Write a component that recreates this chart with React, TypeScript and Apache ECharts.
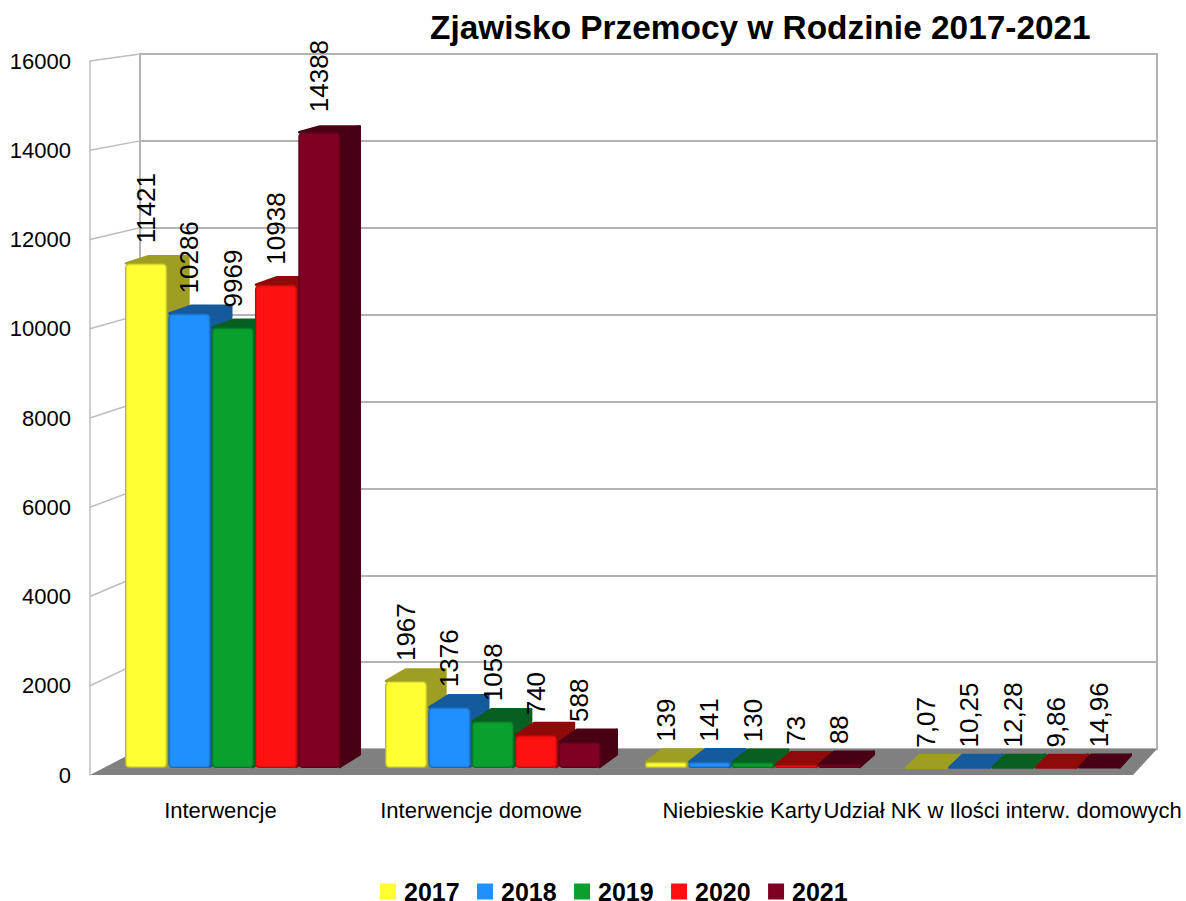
import React, { useEffect, useRef } from "react";
import * as echarts from "echarts";

const categories = ["Interwencje", "Interwencje domowe", "Niebieskie Karty", "Udział NK w Ilości interw. domowych"];
const years = ["2017", "2018", "2019", "2020", "2021"];
const v2017 = [11421, 1967, 139, 7.07];
const v2018 = [10286, 1376, 141, 10.25];
const v2019 = [9969, 1058, 130, 12.28];
const v2020 = [10938, 740, 73, 9.86];
const v2021 = [14388, 588, 88, 14.96];
const seriesValues = [v2017, v2018, v2019, v2020, v2021];
const ticks = [0, 2000, 4000, 6000, 8000, 10000, 12000, 14000, 16000];

const frontColors = ["#ffff33", "#2190ff", "#09a02f", "#ff1111", "#800024"];
const edgeOuter = ["#b8b82a", "#1a68b4", "#077524", "#b80c0c", "#5c001a"];
const edgeInner = ["#e2e230", "#1e80e2", "#088e2a", "#e20f0f", "#700020"];
const darkColors = ["#9e9e22", "#155a9c", "#075f20", "#900a0a", "#4a0014"];

const FONT = '"Liberation Sans", Arial, sans-serif';
// layout of the box
const FRONT = { left: 90, top: 61, width: 1043, height: 714 };
const BACK = { left: 140, top: 54, width: 1017, height: 695 };
const BARS = { left: 103.3, top: 61, width: 1040, height: 707 };
const MAXV = 16000;

const depthDx = (x: number) => 50 - (26 * (x - FRONT.left)) / FRONT.width;
const depthDy = (y: number) => 7 + (19 * (y - FRONT.top)) / FRONT.height;
const barDx = (x: number) => 0.46 * depthDx(x);
const barDy = (y: number) => 0.4 * depthDy(y) + 3.2;

function renderBar(params: any, api: any) {
  const cat = api.value(0);
  const val = api.value(1);
  const idx = params.seriesIndex - 1;
  const base = api.coord([cat, 0]);
  const top = api.coord([cat, val]);
  const band = api.size([1, 0])[0];
  const step = band / 6;
  const w = step - 1;
  const x0 = base[0] - 2.5 * step + idx * step;
  const x1 = x0 + w;
  const y0 = base[1];
  const y1 = top[1];
  const h = y0 - y1;
  const dTop = barDy(y1);
  const dBot = barDy(y0);
  const dark = darkColors[idx];
  const face = (pts: number[][]) => ({
    type: "polygon",
    shape: { points: pts },
    style: { fill: dark, stroke: dark, lineWidth: 2.5, lineJoin: "round" },
    z2: idx * 10 + 1,
  });
  const children: any[] = [
    face([[x1 - 1, y1], [x1 + barDx(x1) - 1, y1 - dTop + 1], [x1 + barDx(x1) - 1, y0 - dBot], [x1 - 1, y0 - 1]]),
    face([[x0 + 1, y1], [x0 + barDx(x0) + 1, y1 - dTop + 1], [x1 + barDx(x1) - 1, y1 - dTop + 1], [x1 - 1, y1]]),
  ];
  const layers: [number, string][] = [[0, edgeOuter[idx]], [1, edgeInner[idx]], [2, frontColors[idx]]];
  layers.forEach(([inset, color], i) => {
    if (h > 1 && h > inset * 2) {
      children.push({
        type: "rect",
        shape: { x: x0 + inset, y: y1 + inset, width: w - 2 * inset, height: h - 2 * inset, r: Math.min(4.5 - inset, h / 2) },
        style: { fill: color },
        z2: idx * 10 + 2 + i,
      });
    }
  });
  children.push({
    type: "text",
    x: (x0 + x1) / 2,
    y: y1 - 20,
    rotation: Math.PI / 2,
    style: {
      text: String(val).replace(".", ","),
      font: `26px ${FONT}`,
      fill: "#000",
      textAlign: "left",
      textVerticalAlign: "middle",
    },
    z2: 500,
  });
  return { type: "group", children };
}

function renderBox(params: any, api: any) {
  const children: any[] = [];
  const yBack = (v: number) => BACK.top + BACK.height * (1 - v / MAXV);
  ticks.forEach((v) => {
    const p = api.coord([0, v]);
    if (v > 0) {
      children.push({
        type: "line",
        shape: { x1: FRONT.left, y1: p[1], x2: BACK.left, y2: yBack(v) },
        style: { stroke: "#bdbdbd", lineWidth: 1.5 },
      });
    }
  });
  const floorY = FRONT.top + FRONT.height;
  children.push({
    type: "polygon",
    shape: {
      points: [
        [FRONT.left, floorY],
        [BACK.left, yBack(0)],
        [BACK.left + BACK.width, yBack(0)],
        [FRONT.left + FRONT.width, floorY],
      ],
    },
    style: { fill: "#808080" },
  });
  return { type: "group", children };
}

export default function App() {
  const ref = useRef<HTMLDivElement>(null);
  useEffect(() => {
    const chart = echarts.init(ref.current!, null, { renderer: "svg" });
    const hiddenAxis = { show: false };
    chart.setOption({
      animation: false,
      backgroundColor: "#fff",
      title: {
        text: "Zjawisko Przemocy w Rodzinie 2017-2021",
        left: 430,
        top: 11,
        padding: 0,
        textStyle: { fontFamily: FONT, fontWeight: "bold", fontSize: 33.4, color: "#000" },
      },
      legend: {
        data: years,
        left: 380,
        top: 879,
        padding: 0,
        itemWidth: 16,
        itemHeight: 16,
        itemGap: 17.4,
        icon: "rect",
        selectedMode: false,
        textStyle: { fontFamily: FONT, fontWeight: "bold", fontSize: 25, lineHeight: 18, color: "#000", padding: [0, 0, 0, 3] },
      },
      grid: [
        { ...BACK, show: true, borderColor: "#b3b3b3", borderWidth: 2, backgroundColor: "transparent" },
        { ...FRONT },
        { ...BARS },
      ],
      xAxis: [
        { gridIndex: 0, type: "category", data: categories, ...hiddenAxis },
        {
          gridIndex: 1,
          type: "category",
          data: categories,
          axisLine: { show: false },
          axisTick: { show: false },
          axisLabel: { interval: 0, hideOverlap: false, fontFamily: FONT, fontSize: 22, color: "#000", margin: 24 },
        },
        { gridIndex: 2, type: "category", data: categories, ...hiddenAxis },
      ],
      yAxis: [
        {
          gridIndex: 0, type: "value", min: 0, max: MAXV, interval: 2000,
          axisLine: { show: false }, axisTick: { show: false }, axisLabel: { show: false },
          splitLine: { show: true, lineStyle: { color: "#b3b3b3", width: 2 } },
        },
        {
          gridIndex: 1, type: "value", min: 0, max: MAXV, interval: 2000,
          axisLine: { show: true, lineStyle: { color: "#bdbdbd", width: 1.5 } },
          axisTick: { show: false },
          splitLine: { show: false },
          axisLabel: { fontFamily: FONT, fontSize: 22, color: "#000", margin: 19, padding: [2, 0, 0, 0], formatter: (v: number) => String(v) },
        },
        { gridIndex: 2, type: "value", min: 0, max: MAXV, interval: 2000, ...hiddenAxis, splitLine: { show: false } },
      ],
      series: [
        {
          type: "custom",
          name: "box",
          xAxisIndex: 1,
          yAxisIndex: 1,
          coordinateSystem: "cartesian2d",
          data: [[0, 0]],
          renderItem: renderBox,
          silent: true,
          z: 1,
          clip: false,
        },
        ...years.map((name, i) => ({
          type: "custom",
          name,
          xAxisIndex: 2,
          yAxisIndex: 2,
          coordinateSystem: "cartesian2d",
          itemStyle: { color: frontColors[i] },
          data: seriesValues[i].map((v, c) => [c, v]),
          encode: { x: 0, y: 1 },
          renderItem: renderBar,
          clip: false,
          z: 3,
        })),
      ],
    });
    return () => chart.dispose();
  }, []);
  return <div ref={ref} style={{ position: "fixed", left: 0, top: 0, width: 1186, height: 901, fontKerning: "none" }} />;
}
